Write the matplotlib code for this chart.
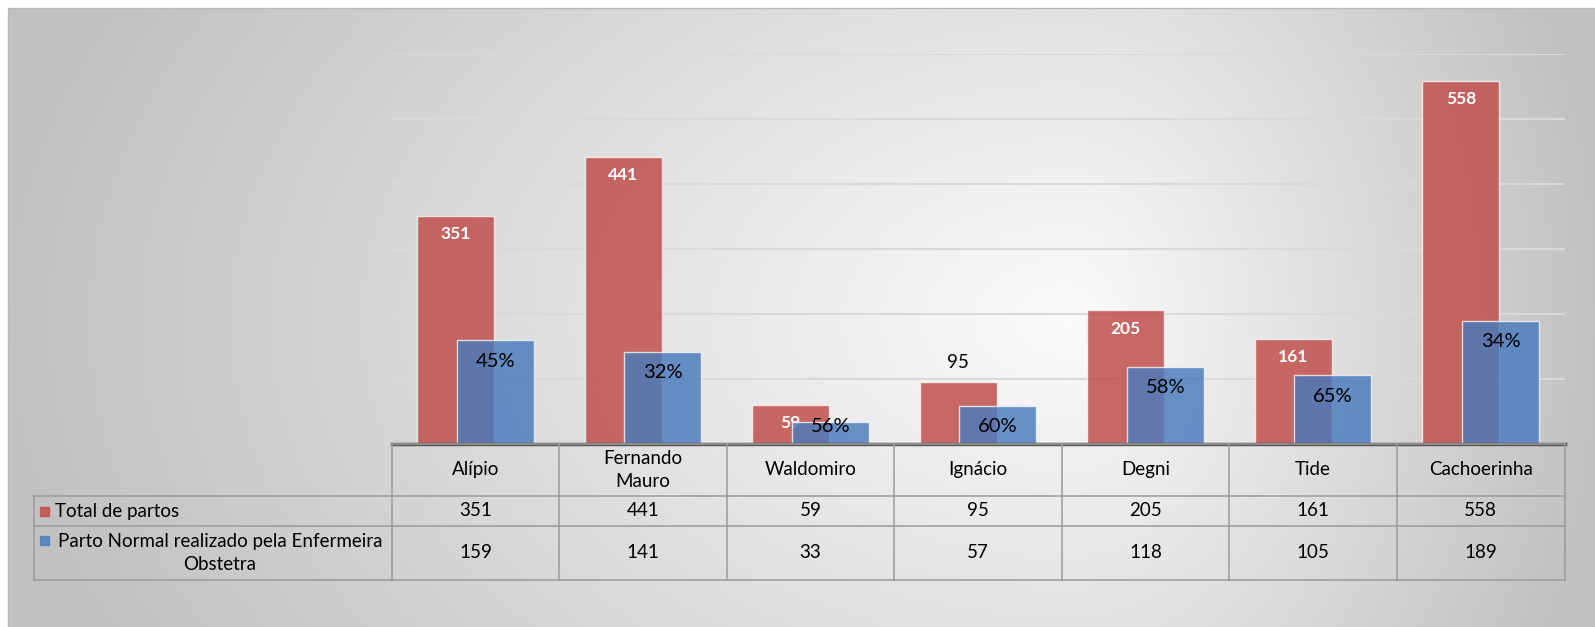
import numpy as np
import matplotlib.pyplot as plt
from matplotlib.patches import Rectangle

# dados
unidades = ["Alípio", "Fernando\nMauro", "Waldomiro", "Ignácio", "Degni", "Tide", "Cachoerinha"]
total_partos = [351, 441, 59, 95, 205, 161, 558]
parto_enfermeira = [159, 141, 33, 57, 118, 105, 189]
series = ["Total de partos", "Parto Normal realizado pela Enfermeira\nObstetra"]

W, H = 1595, 627
VERMELHO = '#C0504D'
AZUL = '#487BBC'
plt.rcParams['font.family'] = ['Lato', 'DejaVu Sans']

fig = plt.figure(figsize=(W / 100, H / 100), dpi=100)

# fundo com gradiente (claro no centro-direita, cinza nas bordas)
bg = fig.add_axes([0, 0, 1, 1], zorder=-10)
yy, xx = np.mgrid[0:H, 0:W]
cx, cy = 1070, 320
dx = np.where(xx < cx, (xx - cx) / (cx - 8), (xx - cx) / (W - cx))
dy = (yy - cy) / 700
r = np.clip(np.sqrt(dx ** 2 + dy ** 2), 0, 1)
shade = 0.985 - 0.225 * r
img = np.dstack([shade, shade, shade])
img[:8, :, :] = 1
img[:, :8, :] = 1
bg.imshow(img, extent=(0, W, H, 0), aspect='auto', interpolation='bilinear')
bg.set_xlim(0, W)
bg.set_ylim(H, 0)
bg.axis('off')
bg.add_patch(Rectangle((8, 8), W, H, fill=False, edgecolor='#b8b8b8', lw=1))

# area do grafico
left, right, top, base = 391.6, 1564.5, 54, 443.5
ax = fig.add_axes([left / W, 1 - base / H, (right - left) / W, (base - top) / H])
ax.patch.set_alpha(0)

x = np.arange(len(unidades))
largura = 0.46
desloc = 0.118

ax.bar(x - desloc, total_partos, largura, color=VERMELHO, alpha=0.85,
       edgecolor='#f4f4f4', linewidth=1, zorder=2)
ax.bar(x + desloc, parto_enfermeira, largura, color=AZUL, alpha=0.82,
       edgecolor='#f4f4f4', linewidth=1, zorder=4)

for i, (t, p) in enumerate(zip(total_partos, parto_enfermeira)):
    if unidades[i] == "Ignácio":
        ax.text(i - desloc, t + 30, str(t), ha='center', va='center',
                fontsize=13.5, color='black', zorder=3)
    else:
        ax.text(i - desloc, max(t - 28, 27), str(t), ha='center', va='center',
                fontsize=12.5, fontweight='bold', color='white', zorder=3)
    pct = f"{round(100 * p / t)}%"
    ax.text(i + desloc, max(p - 32, 26), pct, ha='center', va='center',
            fontsize=14.5, color='black', zorder=5)

ax.set_xlim(-0.5, len(unidades) - 0.5)
ax.set_ylim(0, 600)
ax.set_yticks(range(0, 601, 100))
ax.yaxis.grid(True, color='#d9d9d9', linewidth=1.5, zorder=0)
ax.set_axisbelow(True)
ax.tick_params(axis='both', length=0, labelleft=False, labelbottom=False)
ax.set_xticks([])
for s in ['top', 'right', 'left']:
    ax.spines[s].set_visible(False)
ax.spines['bottom'].set_color('#595959')
ax.spines['bottom'].set_linewidth(2.5)
ax.spines['bottom'].set_zorder(6)

# tabela de dados abaixo do grafico
tb = fig.add_axes([0, 0, 1, 1], zorder=5)
tb.set_xlim(0, W)
tb.set_ylim(H, 0)
tb.axis('off')
tb.patch.set_alpha(0)

n = len(unidades)
col_w = (right - left) / n
tab_left = 33.6
y_head, y_r1, y_r2 = 496, 526, 580
lc = '#9a9a9a'
lw = 1.1

for k in range(n + 1):
    xe = left + k * col_w
    tb.plot([xe, xe], [base, y_r2], color=lc, lw=lw)
tb.plot([tab_left, tab_left], [y_head, y_r2], color=lc, lw=lw)
tb.plot([left, right], [base, base], color=lc, lw=lw)
for yl in (y_head, y_r1, y_r2):
    tb.plot([tab_left, right], [yl, yl], color=lc, lw=lw)

fs = 13.5
for k, nome in enumerate(unidades):
    xc = left + (k + 0.5) * col_w
    tb.text(xc, (base + y_head) / 2, nome, ha='center', va='center',
            fontsize=fs, linespacing=1.4)
    tb.text(xc, (y_head + y_r1) / 2, str(total_partos[k]), ha='center', va='center', fontsize=fs)
    tb.text(xc, (y_r1 + y_r2) / 2, str(parto_enfermeira[k]), ha='center', va='center', fontsize=fs)

# legenda dentro da tabela
tb.add_patch(Rectangle((40, (y_head + y_r1) / 2 - 4.5), 9, 9, color=VERMELHO, alpha=0.85))
tb.text(55, (y_head + y_r1) / 2, series[0], ha='left', va='center', fontsize=fs)
tb.add_patch(Rectangle((40, 540 - 4.5), 9, 9, color=AZUL, alpha=0.82))
tb.text(220, (y_r1 + y_r2) / 2, series[1], ha='center', va='center',
        multialignment='center', fontsize=fs, linespacing=1.45)

fig.savefig('out.png', dpi=100)
